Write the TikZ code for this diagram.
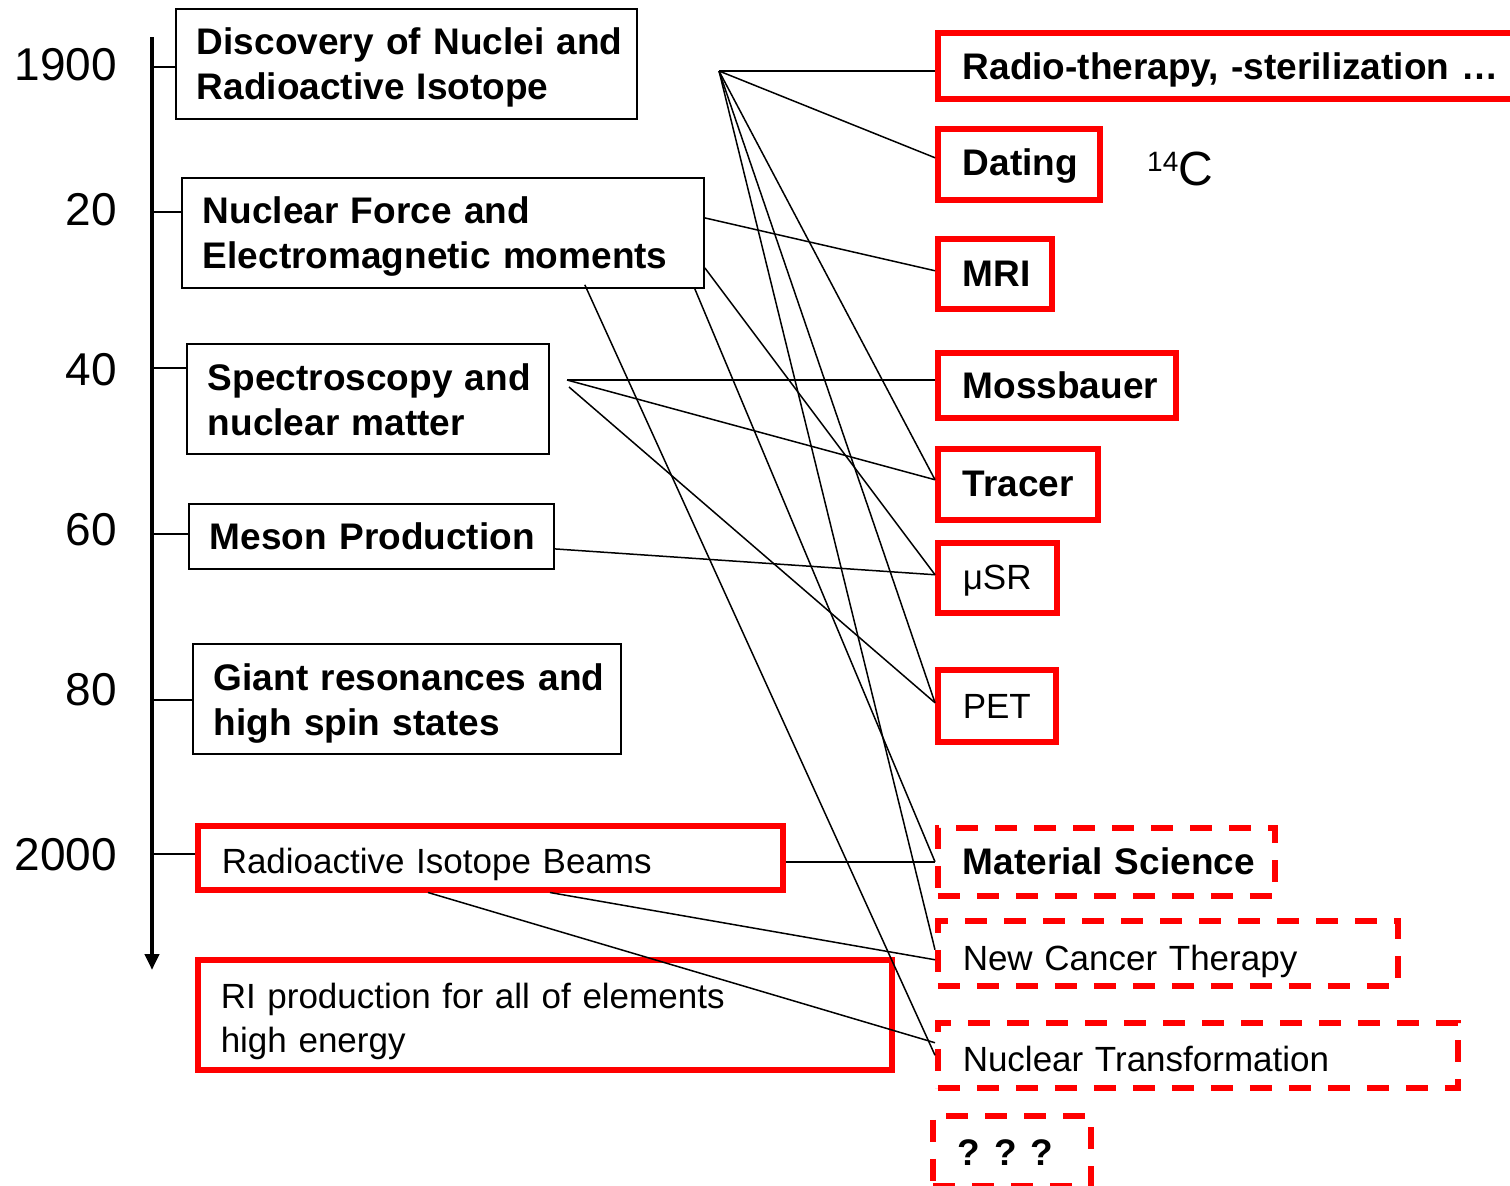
\documentclass[tikz,border=0pt]{standalone}
\usepackage{fontspec}
\setmainfont{Liberation Sans}
\usetikzlibrary{arrows.meta}
\newcommand{\lowr}[2]{\raisebox{-#1}[\height][\depth]{#2}}
\begin{document}
\begin{tikzpicture}[x=1pt,y=-1pt,
  lbox/.style={draw=black,line width=1.8pt,anchor=north west,align=left,inner xsep=21pt,inner ysep=0pt,font=\fontsize{37}{45}\selectfont\bfseries},
  redbox/.style={draw=red,line width=5.5pt,anchor=north west,align=left,inner xsep=25pt,inner ysep=0pt},
  dashbox/.style={redbox,dash pattern=on 22pt off 17pt},
  bigb/.style={font=\fontsize{37}{45}\selectfont\bfseries},
  regt/.style={font=\fontsize{35}{44}\selectfont},
  conn/.style={draw=black,line width=1.5pt},
  tickl/.style={draw=black,line width=1.5pt},
  yr/.style={anchor=base east,inner sep=0pt,font=\fontsize{46}{50}\selectfont}]
\useasboundingbox (0,0) rectangle (1510,1186);

% timeline axis
\coordinate (axtop) at (152,37);
\coordinate (axbot) at (152,970);
\draw[line width=4pt,-{Triangle[length=16pt,width=14pt]}] (axtop) -- (axbot);

% years
\node[yr] (y1900) at (117,80) {1900};
\node[yr] (y20) at (117,225) {20};
\node[yr] (y40) at (117,385) {40};
\node[yr] (y60) at (117,545) {60};
\node[yr] (y80) at (117,705) {80};
\node[yr] (y2000) at (117,870) {2000};

\coordinate (t1900) at (152,67);
\coordinate (t20) at (152,212);
\coordinate (t40) at (152,368);
\coordinate (t60) at (152,534);
\coordinate (t80) at (152,700);
\coordinate (t2000) at (152,854);

% left boxes
\node[lbox,text width=419pt,minimum height=110pt] (disc) at (175,8)
  {\lowr{4pt}{\mbox{Discovery of Nuclei and}}\\\lowr{4pt}{\mbox{Radioactive Isotope}}};
\node[lbox,text width=480pt,minimum height=110pt] (nf) at (181,177)
  {\lowr{4pt}{\mbox{Nuclear Force and}}\\\lowr{4pt}{\mbox{Electromagnetic moments}}};
\node[lbox,text width=320pt,minimum height=110pt] (spec) at (186,343)
  {\lowr{1pt}{\mbox{Spectroscopy and}}\\\lowr{1pt}{\mbox{nuclear matter}}};
\node[lbox,text width=323pt,minimum height=65pt] (meson) at (188,503)
  {\mbox{Meson Production}};
\node[lbox,text width=386pt,minimum height=110pt] (giant) at (192,643)
  {\lowr{5pt}{\mbox{Giant resonances and}}\\\lowr{5pt}{\mbox{high spin states}}};
\node[redbox,regt,inner xsep=24pt,text width=537pt,minimum height=64pt] (rib) at (195,823)
  {\lowr{7pt}{\mbox{Radioactive Isotope Beams}}};
\node[redbox,regt,inner xsep=23pt,text width=648pt,minimum height=110pt] (rip) at (195,957)
  {\lowr{7pt}{\mbox{RI production for all of elements}}\\\lowr{7pt}{\mbox{high energy}}};

% ticks
\draw[tickl] (t1900) -- (disc.west |- t1900);
\draw[tickl] (t20) -- (nf.west |- t20);
\draw[tickl] (t40) -- (spec.west |- t40);
\draw[tickl] (t60) -- (meson.west |- t60);
\draw[tickl] (t80) -- (giant.west |- t80);
\draw[tickl] (t2000) -- (rib.west |- t2000);

% right boxes
\node[redbox,bigb,text width=600pt,minimum height=66pt] (radio) at (935,30)
  {\lowr{4pt}{\mbox{Radio-therapy, -sterilization …}}};
\node[redbox,bigb,text width=112pt,minimum height=71pt] (dating) at (935,126) {\lowr{2pt}{\mbox{Dating}}};
\node[anchor=base west,inner sep=0pt] (c14) at (1147,185)
  {\fontsize{28}{30}\selectfont\raisebox{14pt}{14}\fontsize{48}{50}\selectfont C};
\node[redbox,bigb,text width=64pt,minimum height=70pt] (mri) at (935,236) {\mbox{MRI}};
\node[redbox,bigb,text width=188pt,minimum height=65pt] (moss) at (935,350) {\mbox{Mossbauer}};
\node[redbox,bigb,text width=110pt,minimum height=71pt] (tracer) at (935,446) {\mbox{Tracer}};
\node[redbox,regt,text width=69pt,minimum height=70pt] (musr) at (935,540) {\lowr{3pt}{\mbox{μSR}}};
\node[redbox,regt,text width=68pt,minimum height=72pt] (pet) at (935,667) {\lowr{1pt}{\mbox{PET}}};
\node[dashbox,bigb,text width=287pt,minimum height=68pt] (mat) at (935,825) {\mbox{Material Science}};
\node[dashbox,regt,text width=410pt,minimum height=65pt] (nct) at (935,918) {\lowr{8pt}{\mbox{New Cancer Therapy}}};
\node[dashbox,regt,text width=470pt,minimum height=65pt] (nt) at (935,1020) {\lowr{4pt}{\mbox{Nuclear Transformation}}};
\node[dashbox,bigb,text width=108pt,minimum height=70pt] (qqq) at (930,1113) {\lowr{2pt}{\mbox{?\hspace{14pt}?\hspace{14pt}?}}};

% connectors
\coordinate (apex) at (719,71);
\coordinate (specpt) at (567,380);
\coordinate (specpt2) at (569,387);

\draw[conn] (apex) -- (radio.west |- apex);
\draw[conn] (apex) -- ([yshift=6.5pt]dating.west);
\draw[conn] (apex) -- ([yshift=4.5pt]tracer.west);
\draw[conn] (apex) -- ([yshift=3pt]pet.west);
\draw[conn] (apex) -- ([yshift=3.5pt]nct.west);
\draw[conn] ([yshift=15pt]nf.east) -- ([yshift=3pt]mri.west);
\draw[conn] ([yshift=-35pt]nf.east) -- ([yshift=3pt]musr.west);
\draw[conn] ([xshift=-10pt]nf.south east) -- (mat.west);
\draw[conn] ([xshift=-120pt,yshift=4pt]nf.south east) -- (nt.west);
\draw[conn] (specpt) -- (moss.west |- specpt);
\draw[conn] (specpt) -- ([yshift=4.5pt]tracer.west);
\draw[conn] (specpt2) -- ([yshift=3pt]pet.west);
\draw[conn] ([yshift=-12.5pt]meson.east) -- ([yshift=3pt]musr.west);
\draw[conn] (rib.east |- mat.west) -- (mat.west);
\draw[conn] ([xshift=355pt]rib.south west) -- ([yshift=-6.5pt]nct.west);
\draw[conn] ([xshift=233pt]rib.south west) -- ([yshift=12.5pt]nt.west);
\end{tikzpicture}
\end{document}
